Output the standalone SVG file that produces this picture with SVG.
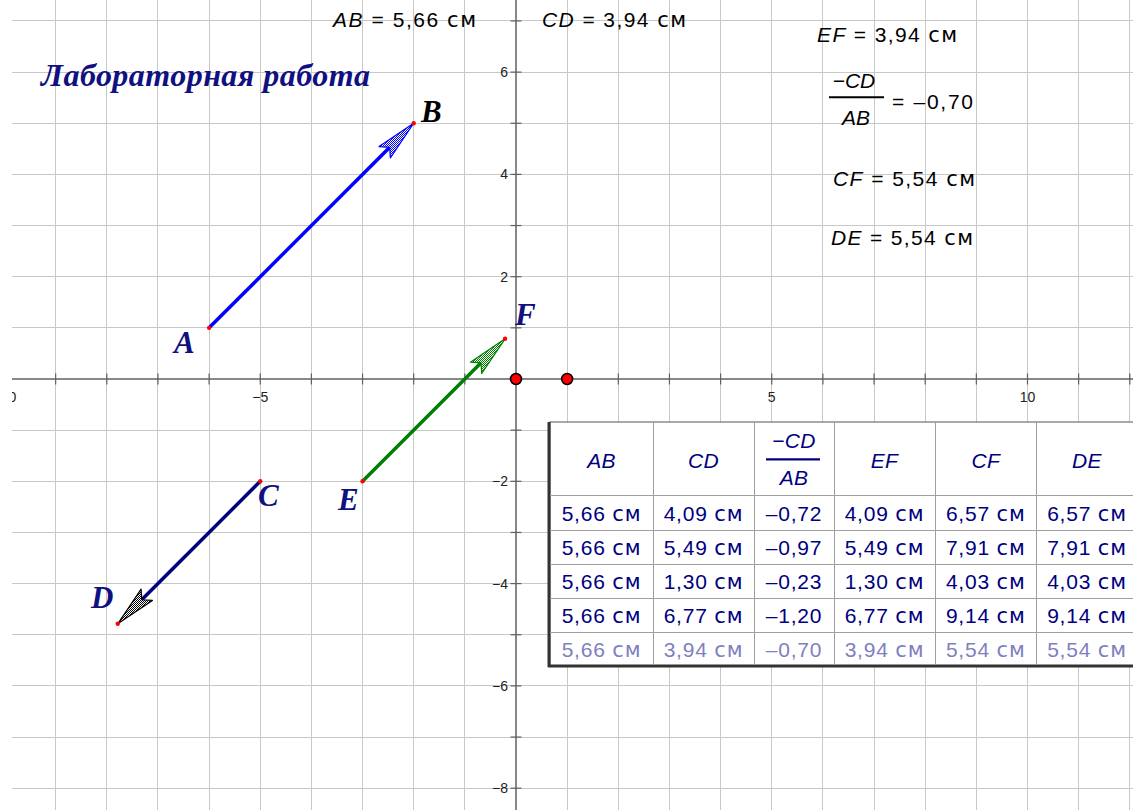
<svg xmlns="http://www.w3.org/2000/svg" width="1133" height="810" viewBox="0 0 1133 810">
<style>
.grid line{stroke:#c8c8c8;stroke-width:1}
.axis{stroke:#606060;stroke-width:1.5}
.tick line{stroke:#606060;stroke-width:1.2}
.tl{font-family:"Liberation Sans",Arial,sans-serif;font-size:14px;fill:#222}
.lbl{font-family:"Liberation Sans",Arial,sans-serif;font-size:21px;fill:#000}
.it{font-style:italic}
.cm{font-family:"DejaVu Sans",sans-serif}
.pt{font-family:"Liberation Serif","Times New Roman",serif;font-weight:bold;font-style:italic;font-size:31px;fill:#101080}
.title{font-family:"Liberation Serif","Times New Roman",serif;font-weight:bold;font-style:italic;font-size:32px;fill:#101080}
.cell{font-family:"Liberation Sans",Arial,sans-serif;font-size:21px;fill:#000080;text-anchor:middle;letter-spacing:0.8px}
.hd{font-style:italic;letter-spacing:0.3px}
.faint{fill:#8080c0}
.tline{stroke:#a0a0a0;stroke-width:1}
.dot{fill:#ff0000}
.odot{fill:#ff0000;stroke:#000;stroke-width:1.5}
</style>
<defs>
<clipPath id="view"><rect x="12" y="0" width="1121" height="810"/></clipPath>
<pattern id="hb" width="2" height="2" patternUnits="userSpaceOnUse"><rect width="2" height="2" fill="#fff"/><rect width="1" height="1" fill="#0000ff"/><rect x="1" y="1" width="1" height="1" fill="#0000ff"/></pattern>
<pattern id="hk" width="2" height="2" patternUnits="userSpaceOnUse"><rect width="2" height="2" fill="#fff"/><rect width="1" height="1" fill="#000"/><rect x="1" y="1" width="1" height="1" fill="#000"/></pattern>
<pattern id="hg" width="2" height="2" patternUnits="userSpaceOnUse"><rect width="2" height="2" fill="#fff"/><rect width="1" height="1" fill="#008000"/><rect x="1" y="1" width="1" height="1" fill="#008000"/></pattern>
</defs>
<rect width="1133" height="810" fill="#fff"/>
<g clip-path="url(#view)">
<g class="grid" shape-rendering="crispEdges">
<line x1="55.65" y1="0" x2="55.65" y2="810"/><line x1="106.8" y1="0" x2="106.8" y2="810"/><line x1="157.95" y1="0" x2="157.95" y2="810"/><line x1="209.1" y1="0" x2="209.1" y2="810"/><line x1="260.25" y1="0" x2="260.25" y2="810"/><line x1="311.4" y1="0" x2="311.4" y2="810"/><line x1="362.55" y1="0" x2="362.55" y2="810"/><line x1="413.7" y1="0" x2="413.7" y2="810"/><line x1="464.85" y1="0" x2="464.85" y2="810"/><line x1="567.15" y1="0" x2="567.15" y2="810"/><line x1="618.3" y1="0" x2="618.3" y2="810"/><line x1="669.45" y1="0" x2="669.45" y2="810"/><line x1="720.6" y1="0" x2="720.6" y2="810"/><line x1="771.75" y1="0" x2="771.75" y2="810"/><line x1="822.9" y1="0" x2="822.9" y2="810"/><line x1="874.05" y1="0" x2="874.05" y2="810"/><line x1="925.2" y1="0" x2="925.2" y2="810"/><line x1="976.35" y1="0" x2="976.35" y2="810"/><line x1="1027.5" y1="0" x2="1027.5" y2="810"/><line x1="1078.65" y1="0" x2="1078.65" y2="810"/><line x1="1129.8" y1="0" x2="1129.8" y2="810"/>
<line x1="0" y1="20.95" x2="1133" y2="20.95"/><line x1="0" y1="72.1" x2="1133" y2="72.1"/><line x1="0" y1="123.25" x2="1133" y2="123.25"/><line x1="0" y1="174.4" x2="1133" y2="174.4"/><line x1="0" y1="225.55" x2="1133" y2="225.55"/><line x1="0" y1="276.7" x2="1133" y2="276.7"/><line x1="0" y1="327.85" x2="1133" y2="327.85"/><line x1="0" y1="430.15" x2="1133" y2="430.15"/><line x1="0" y1="481.3" x2="1133" y2="481.3"/><line x1="0" y1="532.45" x2="1133" y2="532.45"/><line x1="0" y1="583.6" x2="1133" y2="583.6"/><line x1="0" y1="634.75" x2="1133" y2="634.75"/><line x1="0" y1="685.9" x2="1133" y2="685.9"/><line x1="0" y1="737.05" x2="1133" y2="737.05"/><line x1="0" y1="788.2" x2="1133" y2="788.2"/>
</g>
<g id="axes">
<line class="axis" x1="0" y1="379" x2="1133" y2="379"/>
<line class="axis" x1="516" y1="0" x2="516" y2="810"/>
<g class="tick">
<line x1="55.65" y1="373.5" x2="55.65" y2="384.5"/><line x1="106.8" y1="373.5" x2="106.8" y2="384.5"/><line x1="157.95" y1="373.5" x2="157.95" y2="384.5"/><line x1="209.1" y1="373.5" x2="209.1" y2="384.5"/><line x1="260.25" y1="373.5" x2="260.25" y2="384.5"/><line x1="311.4" y1="373.5" x2="311.4" y2="384.5"/><line x1="362.55" y1="373.5" x2="362.55" y2="384.5"/><line x1="413.7" y1="373.5" x2="413.7" y2="384.5"/><line x1="464.85" y1="373.5" x2="464.85" y2="384.5"/><line x1="567.15" y1="373.5" x2="567.15" y2="384.5"/><line x1="618.3" y1="373.5" x2="618.3" y2="384.5"/><line x1="669.45" y1="373.5" x2="669.45" y2="384.5"/><line x1="720.6" y1="373.5" x2="720.6" y2="384.5"/><line x1="771.75" y1="373.5" x2="771.75" y2="384.5"/><line x1="822.9" y1="373.5" x2="822.9" y2="384.5"/><line x1="874.05" y1="373.5" x2="874.05" y2="384.5"/><line x1="925.2" y1="373.5" x2="925.2" y2="384.5"/><line x1="976.35" y1="373.5" x2="976.35" y2="384.5"/><line x1="1027.5" y1="373.5" x2="1027.5" y2="384.5"/><line x1="1078.65" y1="373.5" x2="1078.65" y2="384.5"/><line x1="1129.8" y1="373.5" x2="1129.8" y2="384.5"/>
<line x1="510.5" y1="20.95" x2="521.5" y2="20.95"/><line x1="510.5" y1="72.1" x2="521.5" y2="72.1"/><line x1="510.5" y1="123.25" x2="521.5" y2="123.25"/><line x1="510.5" y1="174.4" x2="521.5" y2="174.4"/><line x1="510.5" y1="225.55" x2="521.5" y2="225.55"/><line x1="510.5" y1="276.7" x2="521.5" y2="276.7"/><line x1="510.5" y1="327.85" x2="521.5" y2="327.85"/><line x1="510.5" y1="430.15" x2="521.5" y2="430.15"/><line x1="510.5" y1="481.3" x2="521.5" y2="481.3"/><line x1="510.5" y1="532.45" x2="521.5" y2="532.45"/><line x1="510.5" y1="583.6" x2="521.5" y2="583.6"/><line x1="510.5" y1="634.75" x2="521.5" y2="634.75"/><line x1="510.5" y1="685.9" x2="521.5" y2="685.9"/><line x1="510.5" y1="737.05" x2="521.5" y2="737.05"/><line x1="510.5" y1="788.2" x2="521.5" y2="788.2"/>
</g>
<g class="tl" text-anchor="middle">
<text x="4.5" y="402">−10</text><text x="260.25" y="402">−5</text><text x="771.75" y="402">5</text><text x="1027.5" y="402">10</text>
</g>
<g class="tl" text-anchor="end">
<text x="508" y="77">6</text><text x="508" y="179.4">4</text><text x="508" y="281.7">2</text><text x="508" y="486.3">−2</text><text x="508" y="588.6">−4</text><text x="508" y="690.9">−6</text><text x="508" y="793.2">−8</text>
</g>
</g>
</g>
<g id="origin-points">
<circle class="odot" cx="516" cy="379" r="5.5"/>
<circle class="odot" cx="567.15" cy="379" r="5.5"/>
</g>
<text id="title" class="title" x="41" y="86" textLength="329" lengthAdjust="spacing">Лабораторная работа</text>
<g id="measures">
<text class="lbl" x="333" y="27" textLength="143" lengthAdjust="spacing"><tspan class="it">AB</tspan> = 5,66 <tspan class="cm">см</tspan></text>
<text class="lbl" x="542" y="27" textLength="144" lengthAdjust="spacing"><tspan class="it">CD</tspan> = 3,94 <tspan class="cm">см</tspan></text>
<text class="lbl" x="817" y="41.5" textLength="140" lengthAdjust="spacing"><tspan class="it">EF</tspan> = 3,94 <tspan class="cm">см</tspan></text>
<g id="ratio">
<text class="lbl it" x="854" y="88" text-anchor="middle">−CD</text>
<line x1="829" y1="97.3" x2="884" y2="97.3" stroke="#000" stroke-width="2"/>
<text class="lbl it" x="856" y="125" text-anchor="middle">AB</text>
<text class="lbl" x="892" y="109" textLength="81" lengthAdjust="spacing">= –0,70</text>
</g>
<text class="lbl" x="833" y="186" textLength="142" lengthAdjust="spacing"><tspan class="it">CF</tspan> = 5,54 <tspan class="cm">см</tspan></text>
<text class="lbl" x="831" y="245" textLength="142" lengthAdjust="spacing"><tspan class="it">DE</tspan> = 5,54 <tspan class="cm">см</tspan></text>
</g>
<g id="connectors">
<g id="vecAB">
<line x1="209.1" y1="327.85" x2="391" y2="146" stroke="#0000ff" stroke-width="3.5"/>
<polygon points="413.7,123.25 390.36,157.9 389.66,147.29 379.04,146.6" fill="url(#hb)" stroke="#0000ff" stroke-width="1.2" stroke-linejoin="round"/>
</g>
<g id="vecCD">
<line x1="260.25" y1="481.3" x2="140.5" y2="601" stroke="#000080" stroke-width="3.5"/>
<polygon points="117.75,623.8 152.41,600.46 141.79,599.76 141.09,589.14" fill="url(#hk)" stroke="#000" stroke-width="1.2" stroke-linejoin="round"/>
</g>
<g id="vecEF">
<line x1="362.55" y1="481.3" x2="482.3" y2="361.5" stroke="#008000" stroke-width="3.5"/>
<polygon points="505.05,338.8 481.71,373.46 481.01,362.84 470.39,362.14" fill="url(#hg)" stroke="#008000" stroke-width="1.2" stroke-linejoin="round"/>
</g>
</g>
<g id="A"><circle class="dot" cx="209.1" cy="327.85" r="2.2"/><text class="pt" x="174" y="353">A</text></g>
<g id="B"><circle class="dot" cx="413.7" cy="123.25" r="2.2"/><text class="pt" x="421" y="121.5" style="fill:#000">B</text></g>
<g id="C"><circle class="dot" cx="260.25" cy="481.3" r="2.2"/><text class="pt" x="258" y="506">C</text></g>
<g id="D"><circle class="dot" cx="117.75" cy="623.8" r="2.2"/><text class="pt" x="91" y="608">D</text></g>
<g id="E"><circle class="dot" cx="362.55" cy="481.3" r="2.2"/><text class="pt" x="338" y="510">E</text></g>
<g id="F"><circle class="dot" cx="505.05" cy="338.8" r="2.2"/><text class="pt" x="515" y="325">F</text></g>
<g id="table">
<rect x="550" y="422" width="600" height="243.5" fill="#fff" stroke="#555" stroke-width="1"/>
<line x1="549" y1="422" x2="549" y2="667" stroke="#333" stroke-width="3"/>
<line x1="548" y1="666" x2="1133" y2="666" stroke="#333" stroke-width="3"/>
<g class="tline" shape-rendering="crispEdges">
<line x1="550" y1="495.5" x2="1133" y2="495.5"/><line x1="550" y1="530.5" x2="1133" y2="530.5"/><line x1="550" y1="564.5" x2="1133" y2="564.5"/><line x1="550" y1="598.5" x2="1133" y2="598.5"/><line x1="550" y1="632.5" x2="1133" y2="632.5"/>
<line x1="653" y1="422" x2="653" y2="665"/><line x1="754" y1="422" x2="754" y2="665"/><line x1="834" y1="422" x2="834" y2="665"/><line x1="935" y1="422" x2="935" y2="665"/><line x1="1036.5" y1="422" x2="1036.5" y2="665"/>
</g>
<g id="header">
<text class="cell hd" x="601.5" y="468">AB</text>
<text class="cell hd" x="703.5" y="468">CD</text>
<text class="cell hd" x="794" y="448">−CD</text>
<line x1="766" y1="459.3" x2="820" y2="459.3" stroke="#000080" stroke-width="2.2"/>
<text class="cell hd" x="794" y="485">AB</text>
<text class="cell hd" x="884.5" y="468">EF</text>
<text class="cell hd" x="985.75" y="468">CF</text>
<text class="cell hd" x="1087" y="468">DE</text>
</g>
<g id="row1">
<text class="cell" x="601.5" y="521">5,66 <tspan class="cm">см</tspan></text><text class="cell" x="703.5" y="521">4,09 <tspan class="cm">см</tspan></text><text class="cell" x="794" y="521">–0,72</text><text class="cell" x="884.5" y="521">4,09 <tspan class="cm">см</tspan></text><text class="cell" x="985.75" y="521">6,57 <tspan class="cm">см</tspan></text><text class="cell" x="1087" y="521">6,57 <tspan class="cm">см</tspan></text>
</g>
<g id="row2">
<text class="cell" x="601.5" y="554.5">5,66 <tspan class="cm">см</tspan></text><text class="cell" x="703.5" y="554.5">5,49 <tspan class="cm">см</tspan></text><text class="cell" x="794" y="554.5">–0,97</text><text class="cell" x="884.5" y="554.5">5,49 <tspan class="cm">см</tspan></text><text class="cell" x="985.75" y="554.5">7,91 <tspan class="cm">см</tspan></text><text class="cell" x="1087" y="554.5">7,91 <tspan class="cm">см</tspan></text>
</g>
<g id="row3">
<text class="cell" x="601.5" y="588.5">5,66 <tspan class="cm">см</tspan></text><text class="cell" x="703.5" y="588.5">1,30 <tspan class="cm">см</tspan></text><text class="cell" x="794" y="588.5">–0,23</text><text class="cell" x="884.5" y="588.5">1,30 <tspan class="cm">см</tspan></text><text class="cell" x="985.75" y="588.5">4,03 <tspan class="cm">см</tspan></text><text class="cell" x="1087" y="588.5">4,03 <tspan class="cm">см</tspan></text>
</g>
<g id="row4">
<text class="cell" x="601.5" y="622.5">5,66 <tspan class="cm">см</tspan></text><text class="cell" x="703.5" y="622.5">6,77 <tspan class="cm">см</tspan></text><text class="cell" x="794" y="622.5">–1,20</text><text class="cell" x="884.5" y="622.5">6,77 <tspan class="cm">см</tspan></text><text class="cell" x="985.75" y="622.5">9,14 <tspan class="cm">см</tspan></text><text class="cell" x="1087" y="622.5">9,14 <tspan class="cm">см</tspan></text>
</g>
<g id="row5">
<text class="cell faint" x="601.5" y="656.5">5,66 <tspan class="cm">см</tspan></text><text class="cell faint" x="703.5" y="656.5">3,94 <tspan class="cm">см</tspan></text><text class="cell faint" x="794" y="656.5">–0,70</text><text class="cell faint" x="884.5" y="656.5">3,94 <tspan class="cm">см</tspan></text><text class="cell faint" x="985.75" y="656.5">5,54 <tspan class="cm">см</tspan></text><text class="cell faint" x="1087" y="656.5">5,54 <tspan class="cm">см</tspan></text>
</g>
</g>
</svg>
